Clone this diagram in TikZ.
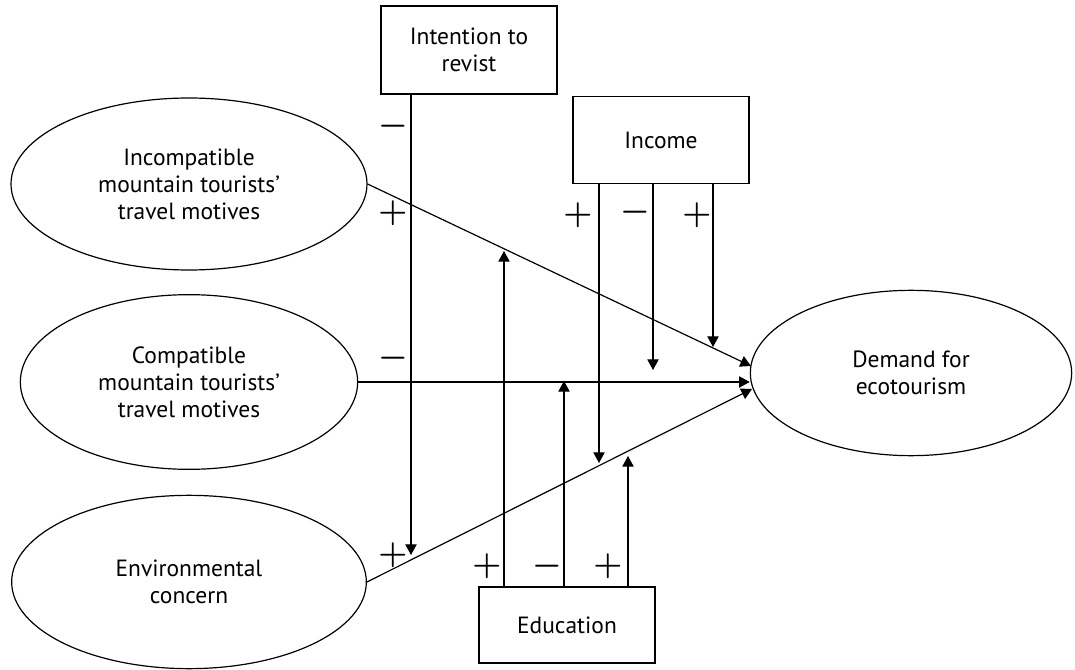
\documentclass[tikz,border=0pt]{standalone}
\usepackage{fontspec}
\setmainfont{PT Sans}
\usetikzlibrary{shapes.geometric,arrows.meta}

\begin{document}
\begin{tikzpicture}[x=0.75pt,y=-0.75pt,
        every node/.style={font=\fontsize{17.6}{20.2}\selectfont},
        factor/.style={draw,ellipse,line width=0.9pt,inner sep=0pt,align=center},
        moderator/.style={draw,rectangle,line width=0.9pt,inner sep=0pt,minimum width=132pt,align=center},
        sign/.style={font=\fontsize{23}{23}\selectfont\boldmath,inner sep=0pt},
        arr/.style={line width=0.9pt,-{Triangle[length=8pt,width=8.5pt]}}]
        \useasboundingbox (0,0) rectangle (1075,670);
        % constructs
        \node[factor,minimum width=267pt,minimum height=129pt] (incomp) at (189,184) {Incompatible\\mountain tourists'\\travel motives};
        \node[factor,minimum width=253pt,minimum height=131pt] (compat) at (189,382) {Compatible\\mountain tourists'\\travel motives};
        \node[factor,minimum width=266pt,minimum height=130pt] (envir) at (189,582) {Environmental\\concern};
        \node[factor,minimum width=241pt,minimum height=124pt] (demand) at (911,373) {Demand for\\ecotourism};
        % moderators
        \node[moderator,minimum height=66pt] (intent) at (469,50) {Intention to\\revist};
        \node[moderator,minimum height=65pt] (income) at (661,140) {Income};
        \node[moderator,minimum height=57pt] (edu) at (567,625) {Education};
        % ends of the moderating arrows
        \coordinate (t1) at (411,555);
        \coordinate (i1) at (599,463);
        \coordinate (i2) at (653,370);
        \coordinate (i3) at (713,347);
        \coordinate (e1) at (504,251);
        \coordinate (e2) at (564,381);
        \coordinate (e3) at (628,456);
        \coordinate (d1) at (751,366);
        \coordinate (d3) at (752,389);
        \draw[arr] (incomp.east) -- (d1);
        \draw[arr] (compat.east) -- (compat.east -| demand.west);
        \draw[arr] (envir.east) -- (d3);
        \draw[arr] (t1 |- intent.south) -- (t1);
        \draw[arr] (i1 |- income.south) -- (i1);
        \draw[arr] (i2 |- income.south) -- (i2);
        \draw[arr] (i3 |- income.south) -- (i3);
        \draw[arr] (e1 |- edu.north) -- (e1);
        \draw[arr] (e2 |- edu.north) -- (e2);
        \draw[arr] (e3 |- edu.north) -- (e3);
        % signs
        \node[sign] (s1) at (393,126) {$-$};
        \node[sign] (s2) at (393,213) {$+$};
        \node[sign] (s3) at (393,358) {$-$};
        \node[sign] (s4) at (393,555) {$+$};
        \node[sign] (s5) at (578,215) {$+$};
        \node[sign] (s6) at (635,212) {$-$};
        \node[sign] (s7) at (697,215) {$+$};
        \node[sign] (s8) at (487,566) {$+$};
        \node[sign] (s9) at (547,566) {$-$};
        \node[sign] (s10) at (608,566) {$+$};
    \end{tikzpicture}
\end{document}
